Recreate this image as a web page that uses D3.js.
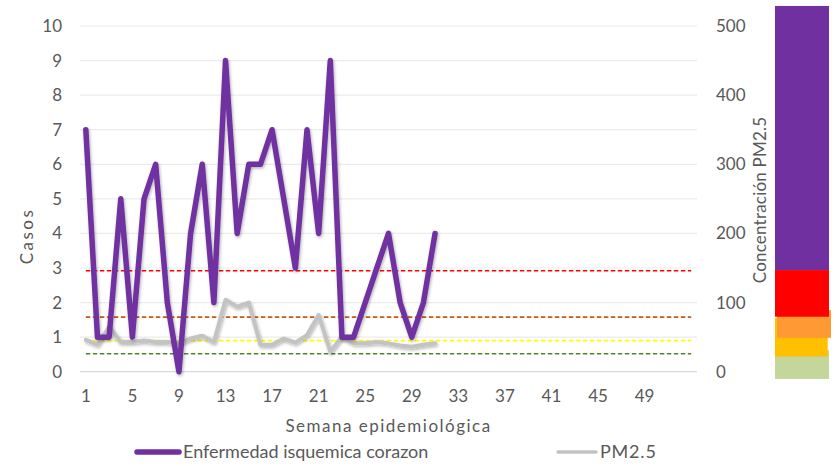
<!DOCTYPE html>
<html>
<head>
<meta charset="utf-8">
<script src="https://cdn.jsdelivr.net/npm/d3@7"></script>
<style>
  html, body { margin: 0; padding: 0; background: #fff; }
  svg { display: block; font-family: Lato, "Open Sans", sans-serif; }
</style>
</head>
<body>
<svg id="chart" width="836" height="466"></svg>
<script>
// Weekly cases of ischemic heart disease (left axis)
const weeks = d3.range(1, 54);
const casos = [7, 1, 1, 5, 1, 5, 6, 2, 0, 4, 6, 2, 9, 4, 6, 6, 7, 5, 3, 7, 4, 9, 1, 1, 2, 3, 4, 2, 1, 2, 4];
// Weekly PM2.5 concentration (right axis)
const pm25 = [46, 39, 65, 43, 43, 45, 43, 43, 41, 48, 52, 43, 104, 94, 100, 39, 39, 48, 42, 53, 82, 29, 51, 41, 41, 43, 41, 38, 36, 39, 41];
// Reference concentration levels drawn as dashed lines (right axis units)
const thresholds = [146, 79, 45, 26];
const thresholdColors = ["#ff0000", "#c55a11", "#ffff00", "#548235"];
// Colour scale bar bands [low, high] in concentration units
const bandLow  = [-10.5, 22, 49, 79.5, 147];
const bandHigh = [31, 78, 89, 147, 529];
const bandColors = ["#c5d69b", "#ffc000", "#ff9933", "#ff0000", "#7030a0"];
const leftTicks = d3.range(0, 11);
const rightTicks = [0, 100, 200, 300, 400, 500];
const xTicks = d3.range(1, 50, 4);

const svg = d3.select("#chart");
const textColor = "#595959";
const plot = { left: 80, right: 697, top: 26, bottom: 371.7 };

const x = d3.scaleBand().domain(weeks).range([plot.left, plot.right]);
const cx = w => x(w) + x.bandwidth() / 2;
const yL = d3.scaleLinear().domain([0, 10]).range([plot.bottom, plot.top]);
const yR = d3.scaleLinear().domain([0, 500]).range([plot.bottom, plot.top]);

const defs = svg.append("defs");
defs.append("filter").attr("id", "shadow").attr("x", "-10%").attr("y", "-10%")
  .attr("width", "120%").attr("height", "120%")
  .append("feDropShadow").attr("dx", 1).attr("dy", 1.5)
  .attr("stdDeviation", 1.4).attr("flood-color", "#000").attr("flood-opacity", 0.3);

// Horizontal gridlines
svg.append("g").selectAll("line").data(leftTicks).join("line")
  .attr("x1", plot.left).attr("x2", plot.right)
  .attr("y1", d => yL(d)).attr("y2", d => yL(d))
  .attr("stroke", d => d === 0 ? "#d9d9d9" : "#ececec").attr("stroke-width", 1.2);

// Left axis
const axL = svg.append("g").attr("transform", `translate(${plot.left},0)`)
  .call(d3.axisLeft(yL).tickValues(leftTicks).tickSize(0).tickPadding(18));
axL.select(".domain").remove();
axL.selectAll("text").attr("fill", textColor).style("font-size", "17px")
  .style("font-family", "Lato, sans-serif");

// Right axis
const axR = svg.append("g").attr("transform", `translate(${plot.right},0)`)
  .call(d3.axisRight(yR).tickValues(rightTicks).tickSize(0).tickPadding(19));
axR.select(".domain").remove();
axR.selectAll("text").attr("fill", textColor).style("font-size", "17px")
  .style("font-family", "Lato, sans-serif");

// Bottom axis
const axB = svg.append("g").attr("transform", `translate(0,${plot.bottom})`)
  .call(d3.axisBottom(x).tickValues(xTicks).tickSize(0).tickPadding(18));
axB.select(".domain").remove();
axB.selectAll("text").attr("fill", textColor).style("font-size", "17px")
  .style("font-family", "Lato, sans-serif");

// Axis titles
svg.append("text").attr("transform", "translate(33,236) rotate(-90)")
  .attr("text-anchor", "middle").attr("fill", textColor)
  .style("font-size", "17px").style("letter-spacing", "2.5px").text("Casos");
svg.append("text").attr("transform", "translate(766,200) rotate(-90)")
  .attr("text-anchor", "middle").attr("fill", textColor)
  .style("font-size", "17px").style("letter-spacing", "0.2px").text("Concentración PM2.5");
svg.append("text").attr("x", (plot.left + plot.right) / 2).attr("y", 432)
  .attr("text-anchor", "middle").attr("fill", textColor)
  .style("font-size", "17px").style("letter-spacing", "1.5px").text("Semana epidemiológica");

// Dashed reference lines
svg.append("g").selectAll("line").data(thresholds).join("line")
  .attr("x1", cx(weeks[0])).attr("x2", cx(weeks[weeks.length - 1]))
  .attr("y1", d => yR(d)).attr("y2", d => yR(d))
  .attr("stroke", (d, i) => thresholdColors[i]).attr("stroke-width", 1.6)
  .attr("stroke-dasharray", "4.5,2.5");

// PM2.5 line
const linePM = d3.line().x((d, i) => cx(weeks[i])).y(d => yR(d));
svg.append("path").datum(pm25).attr("d", linePM)
  .attr("fill", "none").attr("stroke", "#c3c3c3").attr("stroke-width", 4)
  .attr("stroke-linejoin", "round").attr("stroke-linecap", "round")
  .attr("filter", "url(#shadow)");

// Cases line
const lineC = d3.line().x((d, i) => cx(weeks[i])).y(d => yL(d));
svg.append("path").datum(casos).attr("d", lineC)
  .attr("fill", "none").attr("stroke", "#7030a0").attr("stroke-width", 5.5)
  .attr("stroke-linejoin", "round").attr("stroke-linecap", "round")
  .attr("filter", "url(#shadow)");

// Colour scale bar
const bandX = [775, 775, 777, 775, 775];
const bandW = [54, 52.7, 54, 54, 54];
svg.append("g").selectAll("rect").data(bandLow).join("rect")
  .attr("x", (d, i) => bandX[i]).attr("width", (d, i) => bandW[i])
  .attr("y", (d, i) => yR(bandHigh[i]))
  .attr("height", (d, i) => yR(bandLow[i]) - yR(bandHigh[i]))
  .attr("fill", (d, i) => bandColors[i]);

// Legend
const legend = svg.append("g");
legend.append("line").attr("x1", 137).attr("x2", 179).attr("y1", 452).attr("y2", 452)
  .attr("stroke", "#7030a0").attr("stroke-width", 5.5).attr("stroke-linecap", "round");
legend.append("text").attr("x", 183).attr("y", 458).attr("fill", textColor)
  .style("font-size", "18px").text("Enfermedad isquemica corazon");
legend.append("line").attr("x1", 558).attr("x2", 596).attr("y1", 452).attr("y2", 452)
  .attr("stroke", "#c3c3c3").attr("stroke-width", 3.5).attr("stroke-linecap", "round");
legend.append("text").attr("x", 600).attr("y", 458).attr("fill", textColor)
  .style("font-size", "18px").style("letter-spacing", "0.8px").text("PM2.5");
</script>
</body>
</html>
